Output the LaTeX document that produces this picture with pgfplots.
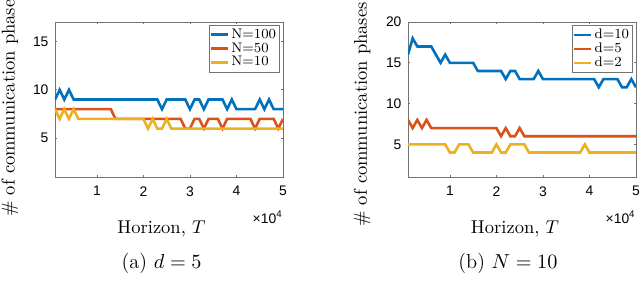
\documentclass[border=0pt]{standalone}
\usepackage{fontspec}
\usepackage{pgfplots}
\usepackage{pgfplotstable}
\pgfplotsset{compat=1.18}
\newfontfamily\arial{Liberation Sans}
\definecolor{mblue}{rgb}{0,0.447,0.741}
\definecolor{mred}{rgb}{0.850,0.325,0.098}
\definecolor{myel}{rgb}{0.929,0.694,0.125}

\pgfplotstableread{
t a b c
1 9 8 8
2 10 8 7
3 9 8 8
4 10 8 7
5 9 8 8
6 9 8 7
7 9 8 7
8 9 8 7
9 9 8 7
10 9 8 7
11 9 8 7
12 9 8 7
13 9 8 7
14 9 7 7
15 9 7 7
16 9 7 7
17 9 7 7
18 9 7 7
19 9 7 7
20 9 7 7
21 9 7 6
22 9 7 7
23 9 7 6
24 8 7 6
25 9 7 7
26 9 7 6
27 9 7 6
28 9 7 6
29 9 6 6
30 8 6 6
31 9 7 6
32 9 7 6
33 8 6 6
34 9 7 6
35 9 7 6
36 9 7 6
37 9 6 6
38 8 7 6
39 9 7 6
40 8 7 6
41 8 7 6
42 8 7 6
43 8 7 6
44 8 6 6
45 9 7 6
46 8 7 6
47 9 7 6
48 8 7 6
49 8 6 6
50 8 7 6
}\lefttab

\pgfplotstableread{
t a b c
1 16 8 5
2 18 7 5
3 17 8 5
4 17 7 5
5 17 8 5
6 17 7 5
7 16 7 5
8 15 7 5
9 16 7 5
10 15 7 4
11 15 7 4
12 15 7 5
13 15 7 5
14 15 7 5
15 15 7 4
16 14 7 4
17 14 7 4
18 14 7 4
19 14 7 4
20 14 7 5
21 14 6 4
22 13 7 4
23 14 6 5
24 14 6 5
25 13 7 5
26 13 6 5
27 13 6 4
28 13 6 4
29 14 6 4
30 13 6 4
31 13 6 4
32 13 6 4
33 13 6 4
34 13 6 4
35 13 6 4
36 13 6 4
37 13 6 4
38 13 6 4
39 13 6 5
40 13 6 4
41 13 6 4
42 12 6 4
43 13 6 4
44 13 6 4
45 13 6 4
46 13 6 4
47 12 6 4
48 12 6 4
49 13 6 4
50 12 6 4
}\righttab

\pgfplotsset{
  mystyle/.style={
    scale only axis,
    width=123.12pt, height=83.7pt,
    xmin=1, xmax=50,
    xtick={10,20,30,40,50},
    xticklabels={1,2,3,4,5},
    axis line style={black!55},
    every tick/.style={black!55},
    major tick length=1.3pt,
    tick align=inside,
    /pgf/number format/assume math mode=true,
    ticklabel style={font=\arial\fontsize{7.5}{9}\selectfont},
    xticklabel style={yshift=-1.5pt},
    legend style={font=\fontsize{7.5}{8}\selectfont, draw=black!55, inner sep=0.5pt, row sep=-1.5pt,
      nodes={inner sep=1.2pt},
      cells={anchor=west}, at={(axis description cs:0.985,0.98)}, anchor=north east},
    legend image code/.code={\draw[#1,line width=1.4pt] (0pt,0pt) -- (9pt,0pt);},
    every axis plot/.append style={line width=1.4pt},
  }
}

\begin{document}%
\setbox0=\hbox{%
\begin{tikzpicture}
\begin{axis}[mystyle, at={(29.7pt,55.62pt)}, anchor=south west,
  ymin=1, ymax=17, ytick={5,10,15}]
\addplot[mblue] table[x=t,y=a] {\lefttab};
\addplot[mred] table[x=t,y=b] {\lefttab};
\addplot[myel] table[x=t,y=c] {\lefttab};
\legend{N=100,N=50,N=10}
\end{axis}
\begin{axis}[mystyle, at={(220.32pt,55.62pt)}, anchor=south west,
  ymin=1, ymax=20, ytick={5,10,15,20}]
\addplot[mblue] table[x=t,y=a] {\righttab};
\addplot[mred] table[x=t,y=b] {\righttab};
\addplot[myel] table[x=t,y=c] {\righttab};
\legend{d=10,d=5,d=2}
\end{axis}
\node[font=\fontsize{10}{12}\selectfont, inner sep=0pt] at (87.2pt,27.54pt) {Horizon, $T$};
\node[font=\fontsize{10}{12}\selectfont, inner sep=0pt] at (278.1pt,27.54pt) {Horizon, $T$};
\node[anchor=east, inner sep=0pt, font=\arial\fontsize{7.5}{9}\selectfont] at (152.8pt,34.0pt) {×10\textsuperscript{4}};
\node[anchor=east, inner sep=0pt, font=\arial\fontsize{7.5}{9}\selectfont] at (343.4pt,34.0pt) {×10\textsuperscript{4}};
\node[font=\fontsize{11}{13}\selectfont, inner sep=0pt] at (87.3pt,9.18pt) {(a) $d=5$};
\node[font=\fontsize{11}{13}\selectfont, inner sep=0pt] at (274.3pt,9.18pt) {(b) $N=10$};
\node[font=\fontsize{10}{12}\selectfont, inner sep=0pt, rotate=90, anchor=west] at (5.4pt,34.0pt) {\# of communication phases};
\node[font=\fontsize{10}{12}\selectfont, inner sep=0pt, rotate=90, anchor=west] at (195.5pt,28.6pt) {\# of communication phases};
\pgfresetboundingbox
\path[use as bounding box] (0pt,0pt) rectangle (345.6pt,151.2pt);
\end{tikzpicture}}%
\wd0=345.6pt \ht0=151.2pt \dp0=0pt
\box0%
\end{document}
